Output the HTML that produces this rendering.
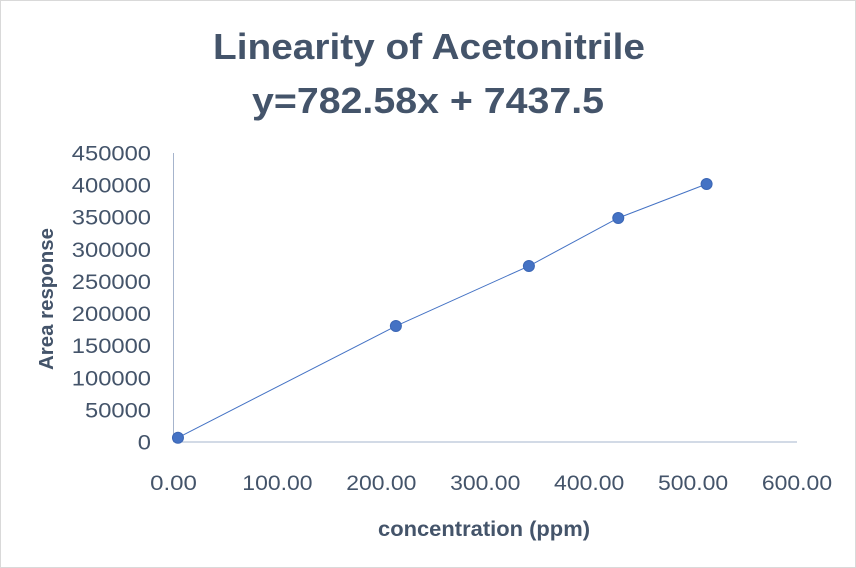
<!DOCTYPE html>
<html><head><meta charset="utf-8"><style>
body{margin:0;background:#fff;}
svg{display:block;font-family:"Liberation Sans",sans-serif;}
</style></head><body>
<svg id="chart" width="856" height="568" viewBox="0 0 856 568">
<rect x="0.5" y="0.5" width="855" height="567" fill="#fff" stroke="#d9d9d9"/>
<text x="429" y="59" text-anchor="middle" font-size="36" font-weight="bold" fill="#44546a" textLength="432" lengthAdjust="spacingAndGlyphs">Linearity of Acetonitrile</text>
<text x="428" y="113" text-anchor="middle" font-size="36" font-weight="bold" fill="#44546a" textLength="352" lengthAdjust="spacingAndGlyphs">y=782.58x + 7437.5</text>
<text x="484" y="536" text-anchor="middle" font-size="21" font-weight="bold" fill="#44546a" textLength="212" lengthAdjust="spacingAndGlyphs">concentration (ppm)</text>
<text transform="translate(53,299) rotate(-90)" text-anchor="middle" font-size="20" font-weight="bold" fill="#44546a" textLength="142" lengthAdjust="spacingAndGlyphs">Area response</text>
<g id="axes"></g>
<g id="marks"></g>
</svg>
<script>
const xTicks=[0,100,200,300,400,500,600];
const yTicks=[0,50000,100000,150000,200000,250000,300000,350000,400000,450000];
const concentrations=[4.3,214,342,428,513];
const areas=[6700,180600,274000,348800,401700];
const X0=173.5,X1=797,Y0=442,Y1=153;
const sx=v=>X0+(v-0)/(600-0)*(X1-X0);
const sy=v=>Y0-(v-0)/(450000-0)*(Y0-Y1);
const NS="http://www.w3.org/2000/svg";
const axes=document.getElementById('axes'),marks=document.getElementById('marks');
function mk(tag,attrs,parent){const e=document.createElementNS(NS,tag);for(const k in attrs)e.setAttribute(k,attrs[k]);parent.appendChild(e);return e;}
let l=mk('line',{x1:X0,y1:Y1,x2:X0,y2:Y0,stroke:'#a6b4cc','stroke-width':1},axes);


l=mk('line',{x1:X0,y1:Y0,x2:X1,y2:Y0,stroke:'#a6b4cc','stroke-width':1},axes);


xTicks.forEach(v=>{const s=v.toFixed(2);const t=mk('text',{x:sx(v),y:490,'text-anchor':'middle','font-size':21,fill:'#44546a',textLength:s.length*11.7,lengthAdjust:'spacingAndGlyphs'},axes);t.textContent=s;

});
yTicks.forEach(v=>{const s=String(v);const t=mk('text',{x:151,y:sy(v)+7.5,'text-anchor':'end','font-size':21,fill:'#44546a',textLength:s.length*13.2,lengthAdjust:'spacingAndGlyphs'},axes);t.textContent=s;

});
const pts=concentrations.map((c,i)=>sx(c)+','+sy(areas[i])).join(' ');
const pl=mk('polyline',{points:pts,fill:'none',stroke:'#4472c4','stroke-width':1},marks);


concentrations.forEach((c,i)=>{const p=mk('circle',{cx:sx(c),cy:sy(areas[i]),r:5.5,fill:'#4472c4',stroke:'#3b66b5','stroke-width':1},marks);

});
</script>
</body></html>
